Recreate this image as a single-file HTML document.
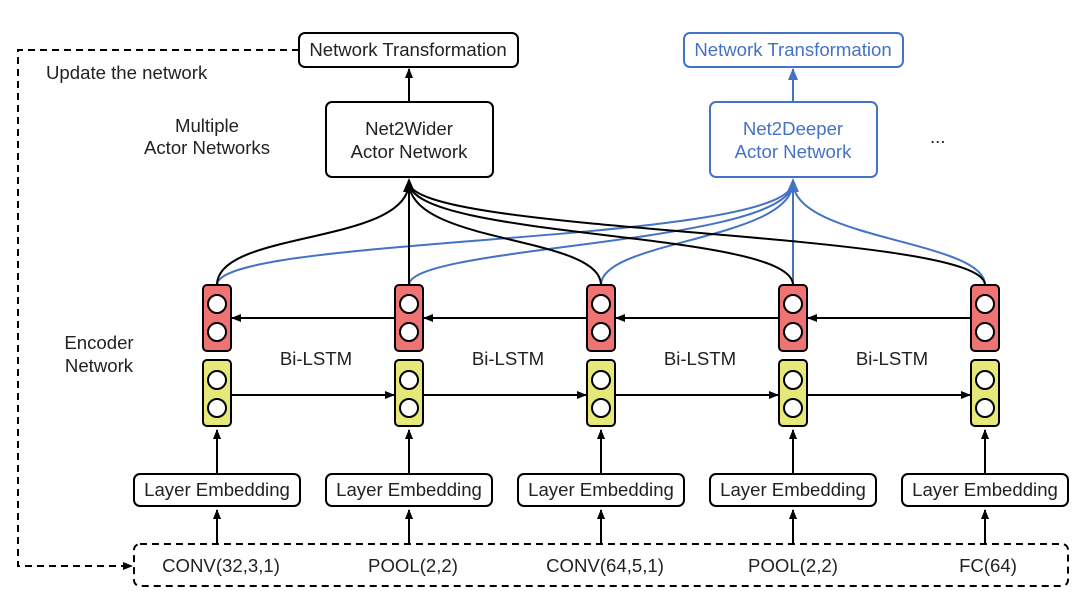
<!DOCTYPE html>
<html><head><style>
html,body{margin:0;padding:0;background:#fff;}
svg text{font-family:"Liberation Sans",Arial,sans-serif;font-size:18.6px;fill:#222;}
</style></head><body>
<svg width="1080" height="604" viewBox="0 0 1080 604" xmlns="http://www.w3.org/2000/svg">
<defs>
<marker id="ak" markerWidth="10" markerHeight="8" refX="9" refY="4" orient="auto" markerUnits="userSpaceOnUse"><path d="M0,0 L10,4 L0,8 z" fill="#000"/></marker>
<marker id="ab" markerWidth="12" markerHeight="10" refX="11" refY="5" orient="auto" markerUnits="userSpaceOnUse"><path d="M0,0 L12,5 L0,10 z" fill="#4472c4"/></marker>
</defs>
<path d="M299,50 L18,50 L18,566 L132,566" fill="none" stroke="#000" stroke-width="2" stroke-dasharray="7,5" marker-end="url(#ak)"/>
<rect x="134" y="544" width="934" height="42" rx="6" fill="none" stroke="#000" stroke-width="2" stroke-dasharray="7,5"/>
<rect x="299" y="33" width="219" height="34" rx="6" fill="#fff" stroke="#000" stroke-width="2"/>
<text x="408" y="56" text-anchor="middle">Network Transformation</text>
<rect x="326" y="102" width="167" height="75" rx="6" fill="#fff" stroke="#000" stroke-width="2"/>
<text x="409" y="135" text-anchor="middle">Net2Wider</text>
<text x="409" y="158" text-anchor="middle">Actor Network</text>
<line x1="409" y1="102" x2="409" y2="69" stroke="#000" stroke-width="2" marker-end="url(#ak)"/>
<rect x="684" y="33" width="219" height="34" rx="6" fill="#fff" stroke="#4472c4" stroke-width="2"/>
<text x="793" y="56" text-anchor="middle" style="fill:#4472c4">Network Transformation</text>
<rect x="710" y="102" width="167" height="75" rx="6" fill="#fff" stroke="#4472c4" stroke-width="2"/>
<text x="793" y="135" text-anchor="middle" style="fill:#4472c4">Net2Deeper</text>
<text x="793" y="158" text-anchor="middle" style="fill:#4472c4">Actor Network</text>
<line x1="793" y1="102" x2="793" y2="69" stroke="#4472c4" stroke-width="2" marker-end="url(#ab)"/>
<text x="46" y="79">Update the network</text>
<text x="207" y="132" text-anchor="middle">Multiple</text>
<text x="207" y="154" text-anchor="middle">Actor Networks</text>
<text x="930" y="143">...</text>
<text x="99" y="349" text-anchor="middle">Encoder</text>
<text x="99" y="372" text-anchor="middle">Network</text>
<g fill="none" stroke-width="2">
<path d="M217,285 C217,235 793,245 793,182" stroke="#4472c4"/>
<path d="M409,285 C409,245 793,245 793,182" stroke="#4472c4"/>
<path d="M601,285 C601,240 793,240 793,182" stroke="#4472c4"/>
<line x1="793" y1="285" x2="793" y2="182" stroke="#4472c4"/>
<path d="M985,285 C985,240 793,240 793,182" stroke="#4472c4"/>
<path d="M217,285 C217,230 409,245 409,182" stroke="#000"/>
<line x1="409" y1="285" x2="409" y2="182" stroke="#000"/>
<path d="M601,285 C601,235 409,245 409,182" stroke="#000"/>
<path d="M793,285 C793,230 409,240 409,182" stroke="#000"/>
<path d="M985,285 C985,230 409,235 409,182" stroke="#000"/>
</g>
<path d="M409,178 L403,192 L415,192 z" fill="#000"/>
<path d="M793,178 L787,192 L799,192 z" fill="#4472c4"/>
<g stroke="#000" stroke-width="2">
<line x1="971" y1="318" x2="808" y2="318" marker-end="url(#ak)"/>
<line x1="779" y1="318" x2="616" y2="318" marker-end="url(#ak)"/>
<line x1="587" y1="318" x2="424" y2="318" marker-end="url(#ak)"/>
<line x1="395" y1="318" x2="232" y2="318" marker-end="url(#ak)"/>
<line x1="231" y1="395" x2="394" y2="395" marker-end="url(#ak)"/>
<line x1="423" y1="395" x2="586" y2="395" marker-end="url(#ak)"/>
<line x1="615" y1="395" x2="778" y2="395" marker-end="url(#ak)"/>
<line x1="807" y1="395" x2="970" y2="395" marker-end="url(#ak)"/>
</g>
<text x="316" y="365" text-anchor="middle">Bi-LSTM</text>
<text x="508" y="365" text-anchor="middle">Bi-LSTM</text>
<text x="700" y="365" text-anchor="middle">Bi-LSTM</text>
<text x="892" y="365" text-anchor="middle">Bi-LSTM</text>
<g stroke="#000" stroke-width="2">
<g transform="translate(217,0)">
<rect x="-14" y="285" width="28" height="66" rx="4" fill="#ef7373"/><circle cx="0" cy="304" r="9" fill="#fff"/><circle cx="0" cy="332" r="9" fill="#fff"/>
<rect x="-14" y="360" width="28" height="66" rx="4" fill="#e6e87a"/><circle cx="0" cy="380" r="9" fill="#fff"/><circle cx="0" cy="408" r="9" fill="#fff"/>
<line x1="0" y1="474" x2="0" y2="430" marker-end="url(#ak)"/>
<line x1="0" y1="544" x2="0" y2="510" marker-end="url(#ak)"/>
<rect x="-83" y="474" width="166" height="32" rx="6" fill="#fff"/>
</g>
<g transform="translate(409,0)">
<rect x="-14" y="285" width="28" height="66" rx="4" fill="#ef7373"/><circle cx="0" cy="304" r="9" fill="#fff"/><circle cx="0" cy="332" r="9" fill="#fff"/>
<rect x="-14" y="360" width="28" height="66" rx="4" fill="#e6e87a"/><circle cx="0" cy="380" r="9" fill="#fff"/><circle cx="0" cy="408" r="9" fill="#fff"/>
<line x1="0" y1="474" x2="0" y2="430" marker-end="url(#ak)"/>
<line x1="0" y1="544" x2="0" y2="510" marker-end="url(#ak)"/>
<rect x="-83" y="474" width="166" height="32" rx="6" fill="#fff"/>
</g>
<g transform="translate(601,0)">
<rect x="-14" y="285" width="28" height="66" rx="4" fill="#ef7373"/><circle cx="0" cy="304" r="9" fill="#fff"/><circle cx="0" cy="332" r="9" fill="#fff"/>
<rect x="-14" y="360" width="28" height="66" rx="4" fill="#e6e87a"/><circle cx="0" cy="380" r="9" fill="#fff"/><circle cx="0" cy="408" r="9" fill="#fff"/>
<line x1="0" y1="474" x2="0" y2="430" marker-end="url(#ak)"/>
<line x1="0" y1="544" x2="0" y2="510" marker-end="url(#ak)"/>
<rect x="-83" y="474" width="166" height="32" rx="6" fill="#fff"/>
</g>
<g transform="translate(793,0)">
<rect x="-14" y="285" width="28" height="66" rx="4" fill="#ef7373"/><circle cx="0" cy="304" r="9" fill="#fff"/><circle cx="0" cy="332" r="9" fill="#fff"/>
<rect x="-14" y="360" width="28" height="66" rx="4" fill="#e6e87a"/><circle cx="0" cy="380" r="9" fill="#fff"/><circle cx="0" cy="408" r="9" fill="#fff"/>
<line x1="0" y1="474" x2="0" y2="430" marker-end="url(#ak)"/>
<line x1="0" y1="544" x2="0" y2="510" marker-end="url(#ak)"/>
<rect x="-83" y="474" width="166" height="32" rx="6" fill="#fff"/>
</g>
<g transform="translate(985,0)">
<rect x="-14" y="285" width="28" height="66" rx="4" fill="#ef7373"/><circle cx="0" cy="304" r="9" fill="#fff"/><circle cx="0" cy="332" r="9" fill="#fff"/>
<rect x="-14" y="360" width="28" height="66" rx="4" fill="#e6e87a"/><circle cx="0" cy="380" r="9" fill="#fff"/><circle cx="0" cy="408" r="9" fill="#fff"/>
<line x1="0" y1="474" x2="0" y2="430" marker-end="url(#ak)"/>
<line x1="0" y1="544" x2="0" y2="510" marker-end="url(#ak)"/>
<rect x="-83" y="474" width="166" height="32" rx="6" fill="#fff"/>
</g>
</g>
<text x="217" y="496" text-anchor="middle">Layer Embedding</text>
<text x="409" y="496" text-anchor="middle">Layer Embedding</text>
<text x="601" y="496" text-anchor="middle">Layer Embedding</text>
<text x="793" y="496" text-anchor="middle">Layer Embedding</text>
<text x="985" y="496" text-anchor="middle">Layer Embedding</text>
<text x="221" y="572" text-anchor="middle">CONV(32,3,1)</text>
<text x="413" y="572" text-anchor="middle">POOL(2,2)</text>
<text x="605" y="572" text-anchor="middle">CONV(64,5,1)</text>
<text x="793" y="572" text-anchor="middle">POOL(2,2)</text>
<text x="988" y="572" text-anchor="middle">FC(64)</text>
</svg>
</body></html>
